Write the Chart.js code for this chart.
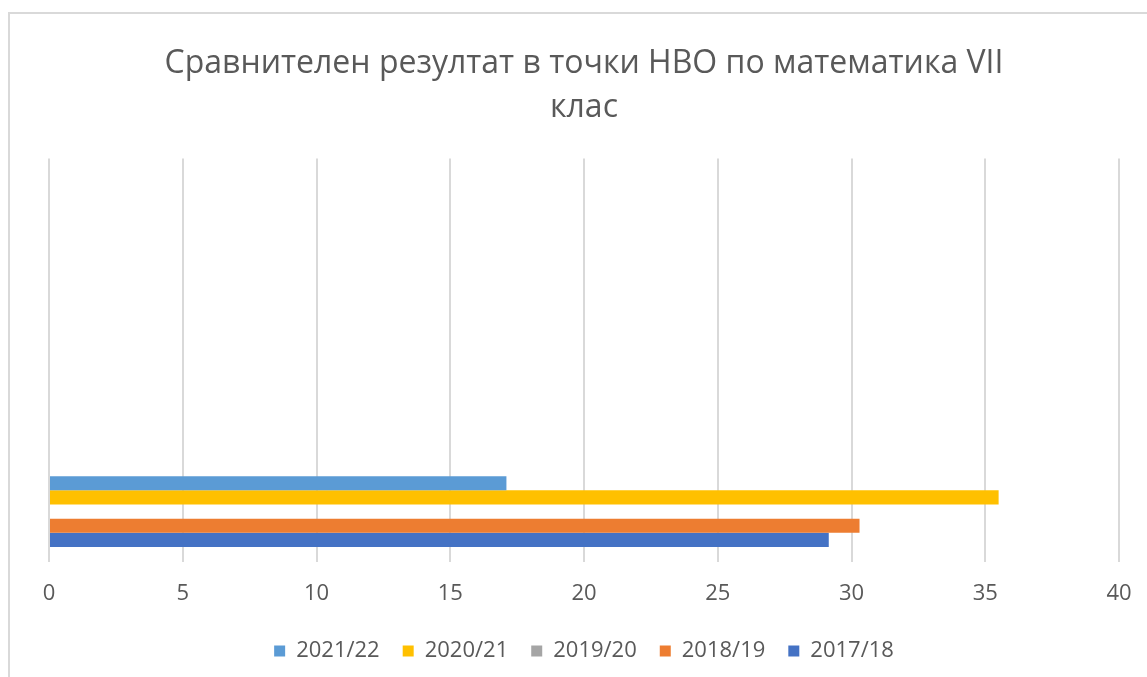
<!DOCTYPE html>
<html>
<head>
<meta charset="utf-8">
<script src="https://cdn.jsdelivr.net/npm/chart.js@4.4.0/dist/chart.umd.min.js"></script>
<style>
  body { margin: 0; background: #fff; }
  #wrap { position: relative; width: 1147px; height: 677px; overflow: hidden; }
  #frame { position: absolute; left: 8px; top: 12px; width: 1200px; height: 700px;
           border-left: 2px solid #d9d9d9; border-top: 2px solid #d9d9d9; }
  #chart { position: absolute; left: 0; top: 0; }
</style>
</head>
<body>
<div id="wrap">
  <div id="frame"></div>
  <canvas id="chart" width="1147" height="677"></canvas>
</div>
<script>
// one real category at the bottom, three empty rows above it
const categories = ['', '', '', ''];
const seasons = ['2021/22', '2020/21', '2019/20', '2018/19', '2017/18'];
const points2122 = [null, null, null, 17.1];
const points2021 = [null, null, null, 35.5];
const points1920 = [null, null, null, 0];
const points1819 = [null, null, null, 30.3];
const points1718 = [null, null, null, 29.15];
const xTicks = [0, 5, 10, 15, 20, 25, 30, 35, 40];

const colors = ['#5B9BD5', '#FFC000', '#A5A5A5', '#ED7D31', '#4472C4'];
const values = [points2122, points2021, points1920, points1819, points1718];

const grey = '#595959';

const ctx = document.getElementById('chart').getContext('2d');
const myChart = new Chart(ctx, {
    type: 'bar',
    data: {
        labels: categories,
        datasets: seasons.map((s, i) => ({
            label: s,
            data: values[i],
            backgroundColor: colors[i],
            borderWidth: 0,
            categoryPercentage: 0.703,
            barPercentage: 1
        }))
    },
    options: {
        indexAxis: 'y',
        responsive: false,
        animation: false,
        layout: { padding: { left: 49, right: 28, top: 0, bottom: 5 } },
        plugins: {
            title: {
                display: true,
                text: ['Сравнителен резултат в точки НВО по математика VII', 'клас'],
                color: grey,
                font: { family: 'Open Sans', size: 32, weight: 'normal', lineHeight: 1.4 },
                padding: { top: 41, bottom: 28 }
            },
            legend: {
                position: 'bottom',
                labels: {
                    color: grey,
                    boxWidth: 11,
                    boxHeight: 11,
                    padding: 23,
                    font: { family: 'Open Sans', size: 22 }
                }
            },
            tooltip: { enabled: false }
        },
        scales: {
            x: {
                min: 0,
                max: 40,
                afterBuildTicks: axis => { axis.ticks = xTicks.map(v => ({ value: v })); },
                afterFit: axis => {
                    axis.height = 55;
                    axis.paddingLeft = 0;
                    axis.paddingRight = 0;
                },
                grid: { color: '#d9d9d9', lineWidth: 2, drawTicks: false },
                border: { display: false },
                ticks: {
                    color: grey,
                    padding: 19,
                    font: { family: 'Open Sans', size: 22 }
                }
            },
            y: {
                display: false
            }
        }
    }
});
</script>
</body>
</html>
